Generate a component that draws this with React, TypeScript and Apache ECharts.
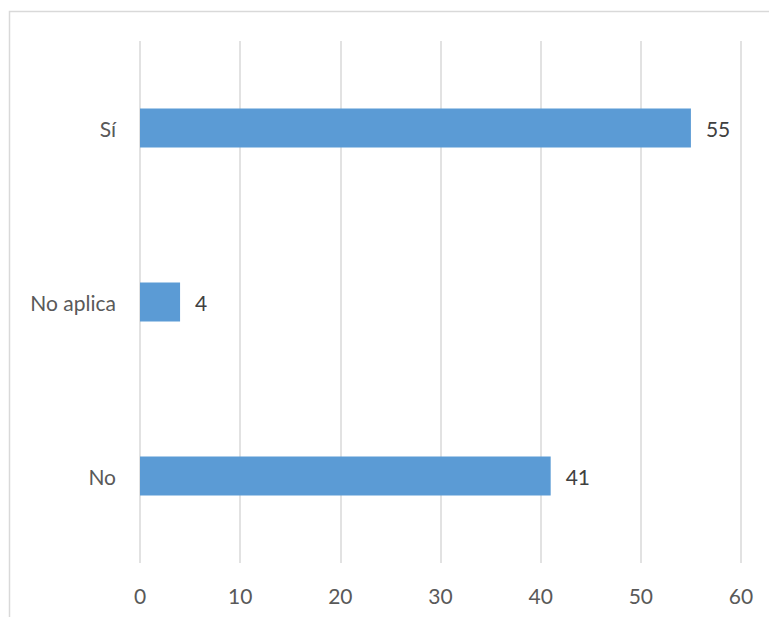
import React, { useEffect, useRef } from "react";
import * as echarts from "echarts";

const categories = ["No", "No aplica", "Sí"];
const values = [41, 4, 55];
const xTicks = [0, 10, 20, 30, 40, 50, 60];

export default function App() {
  const ref = useRef<HTMLDivElement>(null);
  useEffect(() => {
    if (!ref.current) return;
    const chart = echarts.init(ref.current, null, { renderer: "svg" });
    const font = "Lato, 'Liberation Sans', sans-serif";
    chart.setOption({
      animation: false,
      backgroundColor: "#ffffff",
      graphic: [
        {
          type: "rect",
          shape: { x: 9.5, y: 11.5, width: 800, height: 700 },
          style: { fill: "none", stroke: "#d9d9d9", lineWidth: 1.5 },
          silent: true,
        },
      ],
      grid: { left: 140, right: 28, top: 41, bottom: 54 },
      xAxis: {
        type: "value",
        min: xTicks[0],
        max: xTicks[xTicks.length - 1],
        interval: 10,
        axisLine: { show: false },
        axisTick: { show: false },
        splitLine: { show: true, lineStyle: { color: "#d9d9d9", width: 1.5 } },
        axisLabel: { color: "#595959", fontSize: 21, fontFamily: font, margin: 22 },
      },
      yAxis: {
        type: "category",
        data: categories,
        axisLine: { show: false },
        axisTick: { show: false },
        axisLabel: { color: "#595959", fontSize: 21, fontFamily: font, margin: 24 },
      },
      series: [
        {
          type: "bar",
          data: values,
          barWidth: 39,
          itemStyle: { color: "#5B9BD5" },
          label: {
            show: true,
            position: "right",
            distance: 15,
            color: "#404040",
            fontSize: 21,
            fontFamily: font,
          },
        },
      ],
    });
    return () => chart.dispose();
  }, []);
  return (
    <div
      ref={ref}
      style={{ position: "absolute", left: 0, top: 0, width: 769, height: 617 }}
    />
  );
}
